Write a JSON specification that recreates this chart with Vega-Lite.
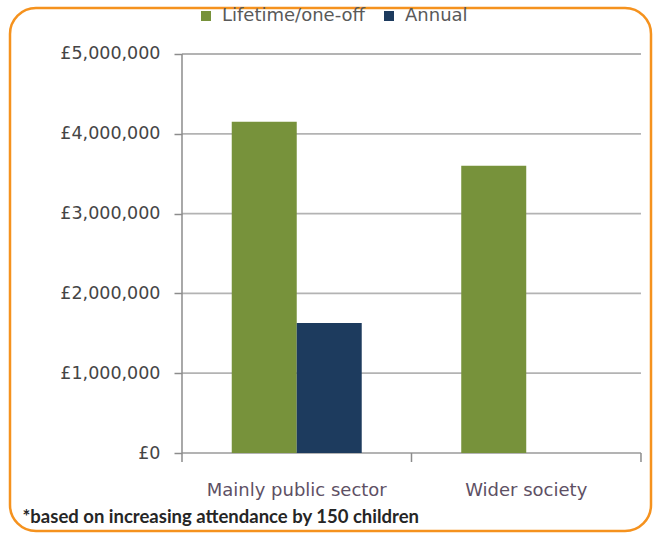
{
  "$schema": "https://vega.github.io/schema/vega-lite/v6.json",
  "width": 641,
  "height": 523,
  "autosize": "none",
  "padding": {"left": 10, "top": 8, "right": 4, "bottom": 2},
  "background": "white",
  "config": {
    "view": {"stroke": "#F5921E", "strokeWidth": 2.5, "cornerRadius": 26},
    "font": "DejaVu Sans"
  },
  "datasets": {
    "bars": [
      {"sector": "Mainly public sector", "type": "Lifetime/one-off", "value": 4150000},
      {"sector": "Mainly public sector", "type": "Annual", "value": 1630000},
      {"sector": "Wider society", "type": "Lifetime/one-off", "value": 3600000}
    ],
    "grid": [
      {"v": 0}, {"v": 1000000}, {"v": 2000000}, {"v": 3000000}, {"v": 4000000}, {"v": 5000000}
    ]
  },
  "layer": [
    {
      "data": {"name": "grid"},
      "mark": {"type": "rule", "color": "#b3b3b3", "strokeWidth": 1.8},
      "encoding": {
        "y": {
          "field": "v",
          "type": "quantitative",
          "scale": {"domain": [-977400, 5576400], "nice": false, "zero": false},
          "axis": {
            "orient": "left",
            "offset": -172,
            "values": [0, 1000000, 2000000, 3000000, 4000000, 5000000],
            "labelExpr": "'£' + format(datum.value, ',')",
            "domain": false,
            "grid": false,
            "ticks": true,
            "tickSize": 8,
            "tickColor": "#8c8c8c",
            "tickWidth": 1.5,
            "labelPadding": 14,
            "labelFont": "DejaVu Sans",
            "labelFontSize": 17.5,
            "labelColor": "#454545",
            "title": null
          }
        },
        "x": {"datum": "Mainly public sector", "type": "nominal", "bandPosition": -0.3827},
        "x2": {"datum": "Wider society", "bandPosition": 1.3827}
      }
    },
    {
      "data": {"values": [{}]},
      "mark": {"type": "rule", "color": "#8c8c8c", "strokeWidth": 1.5},
      "encoding": {
        "x": {"datum": "Mainly public sector", "type": "nominal", "bandPosition": -0.3827},
        "y": {"datum": -112800, "type": "quantitative"},
        "y2": {"datum": 5000000}
      }
    },
    {
      "data": {"values": [{}]},
      "mark": {"type": "rule", "color": "#8c8c8c", "strokeWidth": 1.5},
      "encoding": {
        "x": {"datum": "Wider society", "type": "nominal", "bandPosition": -0.3827},
        "y": {"datum": -112800, "type": "quantitative"},
        "y2": {"datum": 0}
      }
    },
    {
      "data": {"values": [{}]},
      "mark": {"type": "rule", "color": "#8c8c8c", "strokeWidth": 1.5},
      "encoding": {
        "x": {"datum": "Wider society", "type": "nominal", "bandPosition": 1.3827},
        "y": {"datum": -112800, "type": "quantitative"},
        "y2": {"datum": 0}
      }
    },
    {
      "data": {"name": "bars"},
      "mark": {"type": "bar"},
      "encoding": {
        "x": {
          "field": "sector",
          "type": "nominal",
          "sort": null,
          "scale": {
            "domain": ["Mainly public sector", "Wider society"],
            "paddingInner": 0.4336,
            "paddingOuter": 0.6133,
            "align": 0.7877
          },
          "axis": {
            "orient": "bottom",
            "offset": -78,
            "bandPosition": 0.5,
            "domain": false,
            "ticks": false,
            "tickSize": 0,
            "labelAngle": 0,
            "labelAlign": "center",
            "labelLimit": 0,
            "labelPadding": 37,
            "labelFont": "DejaVu Sans",
            "labelFontSize": 18,
            "labelColor": "#5e5064",
            "title": "*based on increasing attendance by 150 children",
            "titleX": 12,
            "titleY": 69,
            "titleAlign": "left",
            "titleAnchor": "start",
            "titleBaseline": "alphabetic",
            "titleFont": "Lato",
            "titleFontWeight": "bold",
            "titleFontSize": 18.5,
            "titleColor": "#262626"
          }
        },
        "xOffset": {
          "field": "type",
          "type": "nominal",
          "scale": {"domain": ["Lifetime/one-off", "Annual"], "paddingInner": 0, "paddingOuter": 0}
        },
        "y": {"field": "value", "type": "quantitative"},
        "y2": {"datum": 0},
        "color": {
          "field": "type",
          "type": "nominal",
          "scale": {"domain": ["Lifetime/one-off", "Annual"], "range": ["#77923b", "#1d3b5e"]},
          "legend": {
            "orient": "none",
            "direction": "horizontal",
            "legendX": 187,
            "legendY": -1,
            "title": null,
            "symbolType": "square",
            "symbolSize": 100,
            "symbolStrokeWidth": 0,
            "labelFont": "DejaVu Sans",
            "labelFontSize": 18,
            "labelColor": "#595959",
            "labelOffset": 7,
            "columnPadding": 15
          }
        }
      }
    }
  ]
}
